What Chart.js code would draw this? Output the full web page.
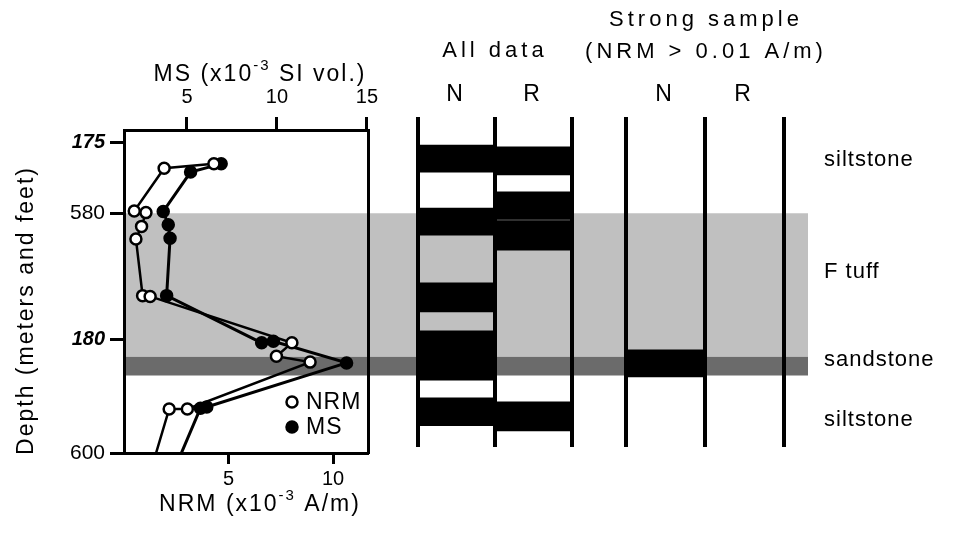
<!DOCTYPE html>
<html>
<head>
<meta charset="utf-8">
<script src="https://cdn.jsdelivr.net/npm/chart.js@4.4.1/dist/chart.umd.min.js"></script>
<style>
  html, body { margin: 0; padding: 0; background: #fff; }
  #fig { position: relative; width: 953px; height: 533px; overflow: hidden; background: #fff; }
  #fig canvas { position: absolute; top: 0; }
</style>
</head>
<body>
<div id="fig">
  <canvas id="units" width="953" height="533" style="left:0"></canvas>
  <canvas id="profile" width="400" height="533" style="left:0"></canvas>
  <canvas id="allData" width="230" height="533" style="left:380px"></canvas>
  <canvas id="strong" width="270" height="533" style="left:571px"></canvas>
</div>
<script>
// ---- depth scale (metres; feet ticks converted) ----
const FT = 0.3048;
const sectionTop = 174.67;          // m, top of the logged interval
const sectionBase = 600 * FT;       // m, base of the logged interval
const columnTop = 174.34;           // m, top of polarity columns
const columnBase = 182.72;          // m, base of polarity columns
const meterTicks = [175, 180];
const feetTicks = [580, 600];
const nrmTicks = [5, 10];
const msTicks = [5, 10, 15];

// ---- NRM intensity (x10^-3 A/m) against depth (m) ----
const nrmDepth = [175.53, 175.64, 176.73, 176.77, 177.12, 177.44, 178.88, 178.90, 180.08, 180.42, 180.57, 181.76, 181.76, 183.30];
const nrmValue = [4.3, 1.92, 0.49, 1.05, 0.84, 0.57, 0.89, 1.25, 8.03, 7.29, 8.9, 3.03, 2.16, 1.3];

// ---- magnetic susceptibility (x10^-3 SI vol.) against depth (m) ----
const msDepth = [175.53, 175.74, 176.74, 177.08, 177.42, 178.88, 180.08, 180.04, 180.59, 181.71, 181.74, 183.30];
const msValue = [6.9, 5.2, 3.68, 3.96, 4.06, 3.87, 9.15, 9.8, 13.87, 6.1, 5.75, 4.3];

// ---- lithology ----
const unitNames = ['siltstone', 'F tuff', 'sandstone', 'siltstone'];
const unitLabelDepth = [175.43, 178.27, 180.51, 182.03];
const shadedUnits = ['F tuff', 'sandstone'];
const shadedTop = [580 * FT, 180.43];
const shadedBase = [180.43, 180.91];

// ---- polarity zones (depth intervals, m) ----
const polarityLabels = ['N', 'R'];
const allNormal = [[175.05, 175.74], [176.65, 177.34], [178.55, 179.29], [179.77, 181.02], [181.47, 182.18]];
const allReverse = [[175.10, 175.81], [176.24, 176.94], [176.97, 177.72], [181.57, 182.31]];
const strongNormal = [[180.25, 180.94]];
const strongReverse = [];

const FONT = "'Liberation Sans', Arial, Helvetica, sans-serif";
const INK = '#000';
const unitFill = { 'F tuff': '#c0c0c0', 'sandstone': '#6b6b6b' };

Chart.defaults.font.family = FONT;
Chart.defaults.color = INK;
Chart.defaults.animation = false;
Chart.defaults.devicePixelRatio = 1;

// letter spacing for a chart's own text
const spacing = {
  id: 'spacing',
  beforeDraw(chart, args, opts) { chart.ctx.letterSpacing = (opts.px || 0) + 'px'; }
};

// text with an optional superscript run, centred on (cx, cy)
function drawRich(ctx, parts, cx, cy) {
  let total = 0;
  const widths = parts.map(p => {
    ctx.font = p[1] + 'px ' + FONT;
    const w = ctx.measureText(p[0]).width;
    total += w;
    return w;
  });
  let x = cx - total / 2;
  ctx.textAlign = 'left';
  ctx.textBaseline = 'middle';
  parts.forEach((p, i) => {
    ctx.font = p[1] + 'px ' + FONT;
    ctx.fillText(p[0], x, cy + p[2]);
    x += widths[i];
  });
}

// ---------- lithology shading and unit names ----------
new Chart(document.getElementById('units'), {
  type: 'line',
  data: {
    datasets: shadedUnits.map((name, i) => ({
      label: name,
      data: [{ x: 0, y: shadedTop[i] }, { x: 1, y: shadedTop[i] }],
      fill: { value: shadedBase[i] },
      backgroundColor: unitFill[name],
      borderWidth: 0,
      pointRadius: 0,
      yAxisID: 'y'
    }))
  },
  options: {
    responsive: false,
    layout: { padding: { left: 124, top: 130, bottom: 80, right: 0 } },
    plugins: { legend: { display: false }, tooltip: { enabled: false }, spacing: { px: 1 } },
    scales: {
      x: { type: 'linear', display: false, min: 0, max: 1 },
      y: { type: 'linear', display: false, reverse: true, min: sectionTop, max: sectionBase },
      units: {
        type: 'linear', position: 'right', reverse: true, min: sectionTop, max: sectionBase,
        afterBuildTicks: s => { s.ticks = unitLabelDepth.map(v => ({ value: v })); },
        afterFit: s => { s.width = 145; },
        grid: { display: false },
        border: { display: false },
        ticks: { callback: (v, i) => unitNames[i], font: { size: 22 }, color: INK, padding: 8 }
      }
    }
  },
  plugins: [spacing]
});

// ---------- NRM and MS profiles ----------
const depthTicks = meterTicks.map(v => ({ value: v, label: String(v), metric: true }))
  .concat(feetTicks.map(f => ({ value: f * FT, label: String(f), metric: false })))
  .sort((a, b) => a.value - b.value);

const profileText = {
  id: 'profileText',
  afterDraw(chart) {
    const { ctx, chartArea: a } = chart;
    const cx = (a.left + a.right) / 2 + 14;
    ctx.save();
    ctx.fillStyle = INK;
    ctx.letterSpacing = '2px';
    drawRich(ctx, [['MS (x10', 23, 0], ['-3', 15, -9], [' SI vol.)', 23, 0]], cx, a.top - 55);
    drawRich(ctx, [['NRM (x10', 23, 0], ['-3', 15, -9], [' A/m)', 23, 0]], cx, a.bottom + 52);
    ctx.save();
    ctx.translate(27, (a.top + a.bottom) / 2 + 19);
    ctx.rotate(-Math.PI / 2);
    drawRich(ctx, [['Depth (meters and feet)', 23, 0]], 0, 0);
    ctx.restore();

    // legend inside the panel
    ctx.letterSpacing = '1px';
    const lx = a.right - 76;
    chart.data.datasets.forEach((ds, i) => {
      const ly = a.bottom - 51 + i * 25;
      ctx.beginPath();
      ctx.arc(lx, ly, 5.5, 0, Math.PI * 2);
      ctx.fillStyle = ds.pointBackgroundColor;
      ctx.fill();
      ctx.lineWidth = 2.5;
      ctx.strokeStyle = ds.pointBorderColor;
      ctx.stroke();
      ctx.fillStyle = INK;
      ctx.font = '23px ' + FONT;
      ctx.textAlign = 'left';
      ctx.textBaseline = 'middle';
      ctx.fillText(ds.label, lx + 14, ly + 1);
    });
    ctx.restore();
  }
};

const axisGrid = { drawOnChartArea: false, drawTicks: true, tickWidth: 3, tickColor: INK };
const axisBorder = { display: true, width: 3, color: INK };

new Chart(document.getElementById('profile'), {
  type: 'scatter',
  data: {
    datasets: [
      {
        label: 'NRM',
        data: nrmValue.map((v, i) => ({ x: v, y: nrmDepth[i] })),
        xAxisID: 'x', yAxisID: 'y',
        showLine: true, borderColor: INK, borderWidth: 2.5,
        pointRadius: 5.5, pointBackgroundColor: '#fff', pointBorderColor: INK, pointBorderWidth: 2.5,
        order: 0
      },
      {
        label: 'MS',
        data: msValue.map((v, i) => ({ x: v, y: msDepth[i] })),
        xAxisID: 'x2', yAxisID: 'y',
        showLine: true, borderColor: INK, borderWidth: 3,
        pointRadius: 5.5, pointBackgroundColor: INK, pointBorderColor: INK, pointBorderWidth: 2.5,
        order: 1
      }
    ]
  },
  options: {
    responsive: false,
    layout: { padding: 0 },
    plugins: { legend: { display: false }, tooltip: { enabled: false } },
    scales: {
      x: {
        type: 'linear', position: 'bottom', min: 0, max: 11.67,
        afterBuildTicks: s => { s.ticks = nrmTicks.map(v => ({ value: v })); },
        afterFit: s => { s.height = 80; },
        grid: Object.assign({ tickLength: 11 }, axisGrid),
        border: axisBorder,
        ticks: { font: { size: 20 }, color: INK, padding: 3, maxRotation: 0 }
      },
      x2: {
        type: 'linear', position: 'top', min: 1.5, max: 15.06,
        afterBuildTicks: s => { s.ticks = msTicks.map(v => ({ value: v })); },
        afterFit: s => { s.height = 130; },
        grid: Object.assign({ tickLength: 13 }, axisGrid),
        border: axisBorder,
        ticks: { font: { size: 20 }, color: INK, padding: 8, maxRotation: 0 }
      },
      y: {
        type: 'linear', position: 'left', reverse: true, min: sectionTop, max: sectionBase,
        afterBuildTicks: s => { s.ticks = depthTicks.map(t => ({ value: t.value })); },
        afterFit: s => { s.width = 124; },
        grid: Object.assign({ tickLength: 14 }, axisGrid),
        border: axisBorder,
        ticks: {
          callback: (v, i) => depthTicks[i].label,
          font: c => (depthTicks[c.index] && depthTicks[c.index].metric)
            ? { family: FONT, size: 20, weight: 'bold', style: 'italic' }
            : { family: FONT, size: 21 },
          color: INK, padding: 5
        }
      },
      yRight: {
        type: 'linear', position: 'right', reverse: true, min: sectionTop, max: sectionBase,
        afterFit: s => { s.width = 32; },
        grid: { drawOnChartArea: false, drawTicks: false },
        border: axisBorder,
        ticks: { display: false }
      }
    }
  },
  plugins: [profileText]
});

// ---------- polarity columns ----------
// blank side axes reserve the margins so the title box keeps the full canvas width
function sideSpace(position, width) {
  return {
    type: 'linear', position, display: true,
    ticks: { display: false }, grid: { display: false }, border: { display: false },
    afterFit: s => { s.width = width; }
  };
}

function polarityChart(id, normal, reverse, title, titleFont, titlePadTop, side) {
  const bars = normal.map(r => ({ x: 'N', y: r })).concat(reverse.map(r => ({ x: 'R', y: r })));
  const lines = Array.isArray(title) ? title.length : 1;
  const titleBox = titlePadTop + titleFont.size * titleFont.lineHeight * lines;
  return new Chart(document.getElementById(id), {
    type: 'bar',
    data: {
      labels: polarityLabels,
      datasets: [{
        data: bars, backgroundColor: INK, borderWidth: 0,
        grouped: false, barPercentage: 1, categoryPercentage: 1
      }]
    },
    options: {
      responsive: false,
      layout: { padding: { left: 0, right: 0, top: 0, bottom: 86 } },
      plugins: {
        legend: { display: false }, tooltip: { enabled: false },
        title: { display: true, text: title, font: titleFont, color: INK, padding: { top: titlePadTop, bottom: 0 } },
        spacing: { px: 4 }
      },
      scales: {
        x: {
          type: 'category', position: 'top', offset: true,
          afterFit: s => { s.height = 117 - titleBox; },
          grid: { display: true, offset: true, drawOnChartArea: true, drawTicks: false, lineWidth: 4, color: INK },
          border: { display: false },
          ticks: { font: { size: 23 }, color: INK, padding: 9 }
        },
        y: { type: 'linear', display: false, reverse: true, min: columnTop, max: columnBase },
        padLeft: sideSpace('left', side[0]),
        padRight: sideSpace('right', side[1])
      }
    },
    plugins: [spacing]
  });
}

polarityChart('allData', allNormal, allReverse, 'All data',
  { family: FONT, size: 22, weight: 'normal', lineHeight: 1.2 }, 37.8, [38, 38]);
polarityChart('strong', strongNormal, strongReverse, ['Strong sample', '(NRM > 0.01 A/m)'],
  { family: FONT, size: 22, weight: 'normal', lineHeight: 1.45 }, 4, [55, 57]);
</script>
</body>
</html>
